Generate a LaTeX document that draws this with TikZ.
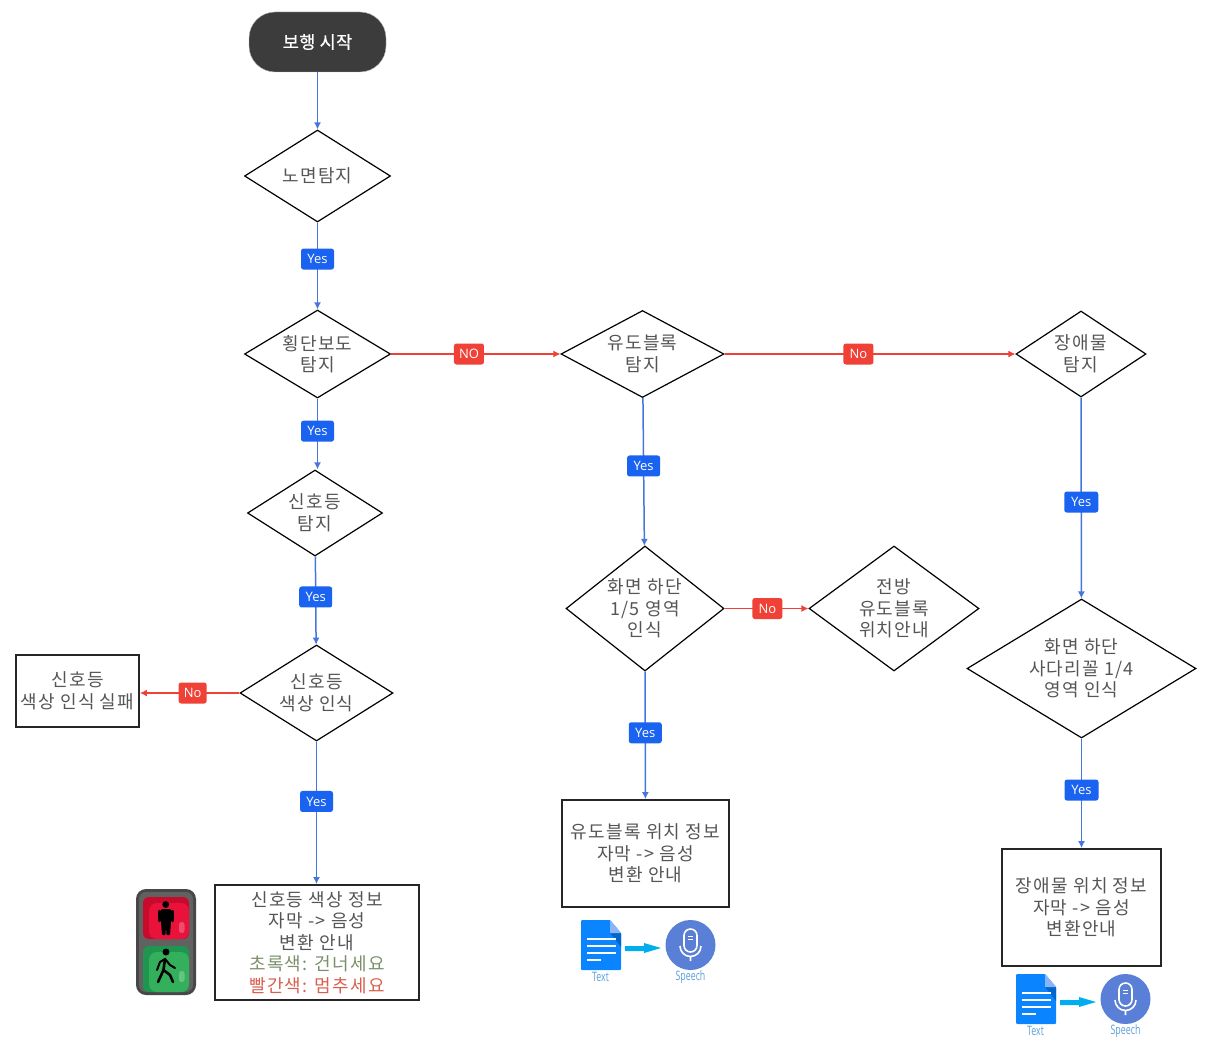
\documentclass[tikz,border=0pt]{standalone}
\usepackage{fontspec}
\setmainfont[LetterSpace=7]{Noto Sans CJK KR}
\newfontfamily\startfont[FakeBold=0.6,LetterSpace=2]{Noto Sans CJK KR}
\newfontfamily\badgefont{Open Sans}
\usetikzlibrary{arrows.meta,shapes.geometric}
\definecolor{flowblue}{HTML}{4476DC}
\definecolor{badgeblue}{HTML}{1A62F0}
\definecolor{flowred}{HTML}{EF4136}
\definecolor{labelgray}{HTML}{555555}
\definecolor{startgray}{HTML}{3C3C3C}
\definecolor{iconblue}{HTML}{0A84FF}
\definecolor{micblue}{HTML}{5A7FD6}
\definecolor{speechblue}{HTML}{5A9FD8}
\definecolor{lampred}{HTML}{C80A2D}
\definecolor{lampredin}{HTML}{E8123A}
\definecolor{lampgreen}{HTML}{1E9650}
\definecolor{lampgreenin}{HTML}{34B05C}
\definecolor{foldlight}{HTML}{8AB4F8}
\definecolor{folddark}{HTML}{0066CC}
\definecolor{ttsarrow}{HTML}{00AEEF}
\tikzset{
  txt/.style={font=\fontsize{18}{21.6}\selectfont, text=labelgray, align=center},
  decision/.style={draw, line width=1.2pt, diamond, inner sep=0pt, txt},
  outbox/.style={draw=black!85, line width=1.8pt, rectangle, inner sep=0pt, txt},
  yesline/.style={draw=flowblue, line width=1.5pt, -{Latex[length=7pt,width=7pt]}},
  noline/.style={draw=flowred, line width=1.3pt, -{Latex[length=7pt,width=7pt]}},
  badge/.style={rounded corners=2.5pt, inner sep=0pt, minimum height=21pt,
    text=white, font=\badgefont\fontsize{13}{15}\selectfont},
  yesbadge/.style={badge, fill=badgeblue, minimum width=33pt},
  nobadge/.style={badge, fill=flowred, minimum width=30pt},
  smalltxt/.style={text=speechblue, font=\badgefont\fontsize{13}{14}\selectfont,
    inner sep=0pt, xscale=.68, transform shape},
}
\begin{document}
\begin{tikzpicture}[x=1pt,y=-1pt]
  \useasboundingbox (0,0) rectangle (1222,1054);
  % start
  \node (start) at (317.5,42) [fill=startgray, draw=gray!50, rounded corners=26pt, minimum width=137pt,
    minimum height=60pt, inner sep=0pt, text=white, font=\startfont\fontsize{17.5}{20}\selectfont] {보행 시작};
  % left column
  \node (road) at (317.5,176) [decision, minimum width=146pt, minimum height=92pt, aspect=1.59] {노면탐지};
  \node (cross) at (317.5,354) [decision, minimum width=146pt, minimum height=88pt, aspect=1.66] {횡단보도\\탐지};
  \node (signal) at (315,513) [decision, minimum width=135pt, minimum height=86pt, aspect=1.57] {신호등\\탐지};
  \node (color) at (316.5,693) [decision, minimum width=153pt, minimum height=96pt, aspect=1.59] {신호등\\색상 인식};
  \node (fail) at (77.5,691) [outbox, minimum width=123pt, minimum height=72pt] {신호등\\색상 인식 실패};
  \node (guide) at (317,942.5) [outbox, minimum width=204pt, minimum height=115pt] {신호등 색상 정보\\자막 -> 음성\\변환 안내\\
    \textcolor[HTML]{7A8F6A}{초록색: 건너세요}\\\textcolor[HTML]{D9604F}{빨간색: 멈추세요}};
  % middle column
  \node (block) at (642.5,354) [decision, minimum width=163pt, minimum height=87pt, aspect=1.87] {유도블록\\탐지};
  \node (bottom) at (645,608.5) [decision, minimum width=158pt, minimum height=125pt, aspect=1.26] {화면 하단\\1/5 영역\\인식};
  \node (front) at (894,608.5) [decision, minimum width=170pt, minimum height=125pt, aspect=1.36] {전방\\유도블록\\위치안내};
  \node (blockinfo) at (645.5,853.5) [outbox, minimum width=167pt, minimum height=107pt] {유도블록 위치 정보\\자막 -> 음성\\변환 안내};
  % right column
  \node (obst) at (1081,354) [decision, minimum width=130pt, minimum height=86pt, aspect=1.51] {장애물\\탐지};
  \node (trap) at (1081.5,668.5) [decision, minimum width=229pt, minimum height=139pt, aspect=1.65] {화면 하단\\사다리꼴 1/4\\영역 인식};
  \node (obstinfo) at (1081.5,907.5) [outbox, minimum width=159pt, minimum height=117pt] {장애물 위치 정보\\자막 -> 음성\\변환안내};
  % connectors
  \draw[yesline] (start) -- (road);
  \draw[yesline] (road) -- node[yesbadge, pos=.42] (yes1) {Yes} (cross);
  \draw[yesline] (cross) -- node[yesbadge, pos=.46] (yes2) {Yes} (cross |- signal.north);
  \draw[yesline] (signal) -- node[yesbadge, pos=.46] (yes3) {Yes} (color);
  \draw[yesline] (color) -- node[yesbadge, pos=.42] (yes4) {Yes} (color |- guide.north);
  \draw[noline] (color) -- node[nobadge, pos=.47, minimum width=28pt] (no1) {No} (color -| fail.east);
  \draw[noline] (cross) -- node[nobadge, pos=.46] (no2) {NO} (block);
  \draw[noline] (block) -- node[nobadge, pos=.46] (no3) {No} (obst);
  \draw[yesline] (block) -- node[yesbadge, pos=.46] (yes5) {Yes} (bottom);
  \draw[noline] (bottom) -- node[nobadge, pos=.51] (no4) {No} (front);
  \draw[yesline] (bottom) -- node[yesbadge, pos=.48] (yes6) {Yes} (blockinfo);
  \draw[yesline] (obst) -- node[yesbadge, pos=.52, minimum width=34pt] (yes7) {Yes} (trap);
  \draw[yesline] (trap) -- node[yesbadge, pos=.47, minimum width=34pt] (yes8) {Yes} (obstinfo);
  % traffic light
  \fill[rounded corners=10pt, fill=black!72] (136,889) rectangle (196,995);
  \fill[rounded corners=7pt, fill=black!62] (139,892) rectangle (193,992);
  \fill[rounded corners=6pt, fill=lampred] (143,897) rectangle (189,939);
  \fill[rounded corners=8pt, fill=lampredin] (149,903) rectangle (189,939);
  \fill[rounded corners=6pt, fill=lampgreen] (143,946) rectangle (189,992);
  \fill[rounded corners=8pt, fill=lampgreenin] (149,952) rectangle (189,992);
  \fill[white, opacity=.25, rounded corners=2.5pt] (179,922) rectangle (184.5,933);
  \fill[white, opacity=.25, rounded corners=2.5pt] (179,971) rectangle (184.5,982);
  \fill[black] (165.7,904.5) circle (3.4);
  \fill[black, rounded corners=1pt] (161,909) -- (171,909) -- (171,922) -- (170,935) -- (166.4,935)
    -- (166,923) -- (165.6,935) -- (162,935) -- (161,922) -- cycle;
  \draw[black, line width=2.2pt, line cap=round] (159.5,911) -- (159.5,921);
  \draw[black, line width=2.2pt, line cap=round] (172.5,911) -- (172.5,921);
  \fill[black] (166,952) circle (3.5);
  \draw[black, line width=2.6pt, line cap=round, line join=round] (165,959) -- (163.5,970) -- (158,982);
  \draw[black, line width=2.6pt, line cap=round, line join=round] (163.5,970) -- (170,975) -- (173,982);
  \draw[black, line width=2pt, line cap=round, line join=round] (157,970) -- (160,962) -- (165,959) -- (170,965) -- (175,968);
  % text to speech, twice
  \foreach \dx/\dy/\nm in {0/0/a,435/54/b}{
    \begin{scope}[shift={(\dx,\dy)}]
      \fill[iconblue, rounded corners=1pt] (581,920) -- (610,920) -- (621,933) -- (621,970) -- (581,970) -- cycle;
      \fill[folddark] (610,933) -- (621,933) -- (621,947) -- cycle;
      \fill[foldlight] (610,920) -- (621,933) -- (610,933) -- cycle;
      \foreach \ly/\lx in {939/616,946/616,953/616,960/601}
        \draw[white, line width=1.8pt] (587,\ly) -- (\lx,\ly);
      \fill[ttsarrow] (625,946) -- (644,946) -- (644,943) -- (661,948) -- (644,953) -- (644,951) -- (625,951) -- cycle;
      \fill[micblue] (690.5,945) circle (25);
      \draw[white, line width=1.6pt, rounded corners=6.5pt] (684,929) rectangle (697,952);
      \draw[white, line width=1pt] (688,936) -- (693,936) (688,939) -- (693,939);
      \draw[white, line width=1.6pt] (680,946) arc[start angle=180, end angle=0, radius=10.5] (690.5,956.5) -- (690.5,961);
      \node (tts\nm text) at (600.5,977) [smalltxt] {Text};
      \node (tts\nm speech) at (690.5,977) [smalltxt] {Speech};
    \end{scope}
  }
\end{tikzpicture}
\end{document}
